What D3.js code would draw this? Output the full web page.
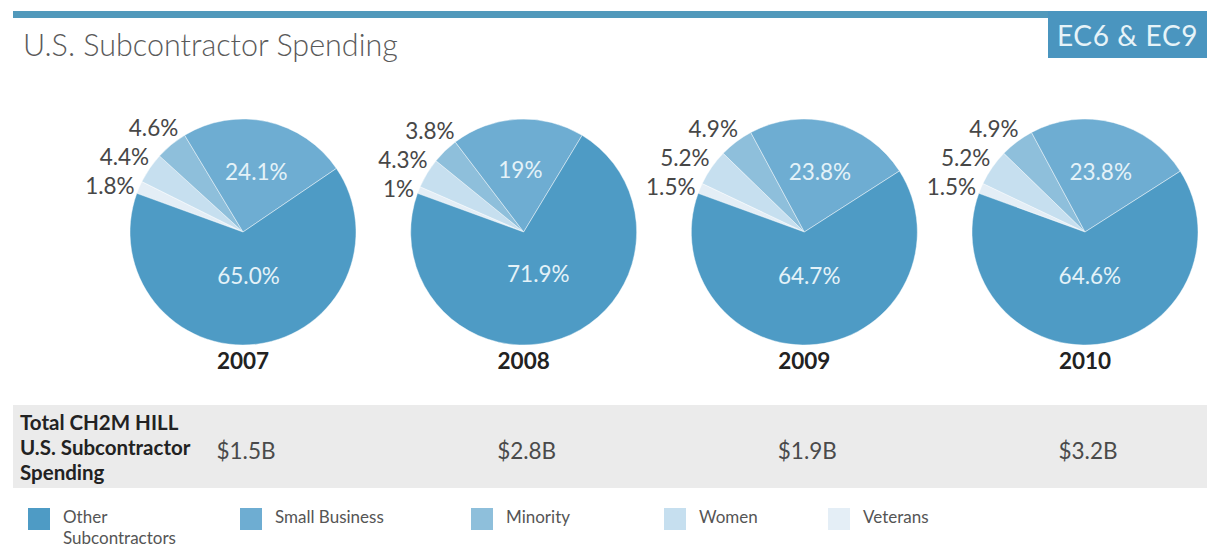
<!DOCTYPE html>
<html>
<head>
<meta charset="utf-8">
<script src="https://cdn.jsdelivr.net/npm/d3@7"></script>
<style>
  html, body { margin: 0; padding: 0; background: #fff; }
  svg { display: block; font-family: Lato, "Open Sans", sans-serif; }
</style>
</head>
<body>
<svg id="chart" width="1207" height="548"></svg>
<script>
// Shares of U.S. subcontractor spending by year (percent, as printed)
const years = ["2007", "2008", "2009", "2010"];
const categories = ["Other Subcontractors", "Small Business", "Minority", "Women", "Veterans"];
const otherShare = ["65.0", "71.9", "64.7", "64.6"];
const smallBusinessShare = ["24.1", "19", "23.8", "23.8"];
const minorityShare = ["4.6", "3.8", "4.9", "4.9"];
const womenShare = ["4.4", "4.3", "5.2", "5.2"];
const veteransShare = ["1.8", "1", "1.5", "1.5"];
const totalSpending = ["$1.5B", "$2.8B", "$1.9B", "$3.2B"];

const colors = {
  "Other Subcontractors": "#4e9bc5",
  "Small Business": "#6eadd2",
  "Minority": "#8ebfdb",
  "Women": "#c6dfef",
  "Veterans": "#e4eef6"
};

const svg = d3.select("#chart");
const W = 1207;

// Header stripe and tag
svg.append("rect").attr("x", 13).attr("y", 11).attr("width", W - 13).attr("height", 7).attr("fill", "#5199bb");
svg.append("rect").attr("x", 1048).attr("y", 11).attr("width", W - 1048).attr("height", 47).attr("fill", "#4a95bf");
svg.append("text").attr("x", 1057).attr("y", 46).attr("font-size", 28).attr("letter-spacing", 0.6)
  .attr("fill", "#e6f3f8").text("EC6 & EC9");
svg.append("text").attr("x", 23).attr("y", 56).attr("font-size", 30.5).attr("font-weight", 300)
  .attr("fill", "#5a5a5a").text("U.S. Subcontractor Spending");

// Pie layout
const R = 113;
const cy = 232;
const x = d3.scalePoint().domain(years).range([243, 1085]);

const pie = d3.pie()
  .sort(null)
  .value(d => d.value)
  .startAngle(-70 * Math.PI / 180)
  .endAngle(-70 * Math.PI / 180 + 2 * Math.PI);
const arc = d3.arc().innerRadius(0).outerRadius(R);

years.forEach((year, i) => {
  const rows = [
    { key: "Veterans", text: veteransShare[i] },
    { key: "Women", text: womenShare[i] },
    { key: "Minority", text: minorityShare[i] },
    { key: "Small Business", text: smallBusinessShare[i] },
    { key: "Other Subcontractors", text: otherShare[i] }
  ].map(r => ({ ...r, value: +r.text }));

  const arcs = pie(rows);
  const g = svg.append("g").attr("transform", `translate(${x(year)},${cy})`);

  g.selectAll("path").data(arcs).join("path")
    .attr("d", arc)
    .attr("fill", d => colors[d.data.key])
    .attr("stroke", "#ffffff")
    .attr("stroke-opacity", 0.55)
    .attr("stroke-width", 0.8);

  // Labels inside the two large slices
  const inner = {
    "Small Business": d3.arc().innerRadius(R * 0.55).outerRadius(R * 0.55),
    "Other Subcontractors": d3.arc().innerRadius(R * 0.39).outerRadius(R * 0.39)
  };
  arcs.filter(d => inner[d.data.key]).forEach(d => {
    const [lx, ly] = inner[d.data.key].centroid(d);
    g.append("text").attr("x", lx).attr("y", ly)
      .attr("text-anchor", "middle").attr("dominant-baseline", "central")
      .attr("font-size", 22.5).attr("fill", "#e4f2f8")
      .text(d.data.text + "%");
  });

  // Stacked labels outside the small slices
  const RL = 118;
  let prevY = Infinity;
  arcs.filter(d => !inner[d.data.key]).forEach((d, k) => {
    const mid = (d.startAngle + d.endAngle) / 2;
    let ly = -RL * Math.cos(mid);
    if (ly > prevY - 29) ly = prevY - 29;
    prevY = ly;
    const rx = RL + k * 2.5;
    const lx = -Math.sqrt(Math.max(0, rx * rx - ly * ly));
    g.append("text").attr("x", lx).attr("y", ly)
      .attr("text-anchor", "end").attr("dominant-baseline", "central")
      .attr("font-size", 22.5).attr("fill", "#474747")
      .text(d.data.text + "%");
  });

  svg.append("text").attr("x", x(year)).attr("y", 369)
    .attr("text-anchor", "middle").attr("font-size", 22.5).attr("font-weight", 700)
    .attr("fill", "#222").text(year);
});

// Totals row
svg.append("rect").attr("x", 13).attr("y", 405).attr("width", W - 13).attr("height", 83).attr("fill", "#ebebeb");
const rowLabel = svg.append("text").attr("font-size", 20.5).attr("font-weight", 700).attr("fill", "#222");
["Total CH2M HILL", "U.S. Subcontractor", "Spending"].forEach((t, k) => {
  rowLabel.append("tspan").attr("x", 20).attr("y", 430 + k * 25).text(t);
});
years.forEach((year, i) => {
  svg.append("text").attr("x", x(year) + 3).attr("y", 459)
    .attr("text-anchor", "middle").attr("font-size", 22.5).attr("fill", "#4a4a4a")
    .text(totalSpending[i]);
});

// Legend
const legendX = [28, 240, 471, 664, 828];
categories.forEach((c, i) => {
  const lg = svg.append("g").attr("transform", `translate(${legendX[i]},508)`);
  lg.append("rect").attr("width", 22).attr("height", 22).attr("fill", colors[c]);
  const words = c === "Other Subcontractors" ? ["Other", "Subcontractors"] : [c];
  const t = lg.append("text").attr("font-size", 17).attr("fill", "#555");
  words.forEach((w, k) => t.append("tspan").attr("x", 35).attr("y", 15 + k * 21).text(w));
});
</script>
</body>
</html>
